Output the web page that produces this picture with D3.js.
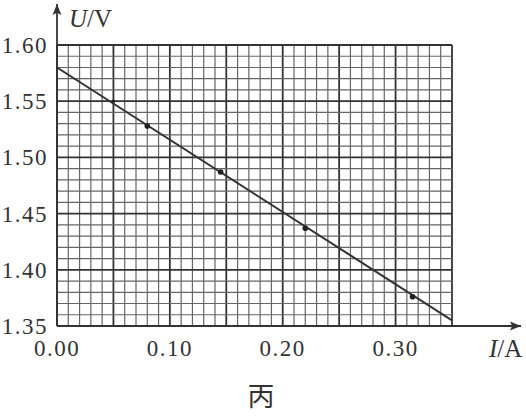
<!DOCTYPE html>
<html>
<head>
<meta charset="utf-8">
<script src="https://cdn.jsdelivr.net/npm/d3@7"></script>
<style>
  body { margin: 0; background: #fff; }
  text { font-family: "Liberation Serif", "DejaVu Serif", serif; fill: #333; }
</style>
</head>
<body>
<svg id="chart" width="526" height="418"></svg>
<script>
// measured points (I in A, U in V)
const currents = [0.05, 0.08, 0.145, 0.22, 0.315];
const voltages = [1.55, 1.528, 1.487, 1.437, 1.376];
// fitted line ends
const fitI = [0.00, 0.35];
const fitU = [1.58, 1.355];
const xTicks = [0.00, 0.10, 0.20, 0.30];
const yTicks = [1.35, 1.40, 1.45, 1.50, 1.55, 1.60];

const svg = d3.select("#chart");
const margin = { top: 45, left: 57 };
const width = 395, height = 281;

const x = d3.scaleLinear().domain([0, 0.35]).range([0, width]);
const y = d3.scaleLinear().domain([1.35, 1.60]).range([height, 0]);

const g = svg.append("g").attr("transform", "translate(" + margin.left + "," + margin.top + ")");

// fine grid, every 0.01 / 0.01, darker every 0.05
const gx = d3.range(0, 36).map(i => i / 100);
const gy = d3.range(0, 26).map(i => 1.35 + i / 100);

g.append("g").selectAll("line")
  .data(gx)
  .enter().append("line")
  .attr("x1", d => x(d)).attr("x2", d => x(d))
  .attr("y1", 0).attr("y2", height)
  .attr("stroke", (d, i) => i % 5 === 0 ? "#333" : "#666")
  .attr("stroke-width", (d, i) => i % 5 === 0 ? 1.8 : 1.2);

g.append("g").selectAll("line")
  .data(gy)
  .enter().append("line")
  .attr("y1", d => y(d)).attr("y2", d => y(d))
  .attr("x1", 0).attr("x2", width)
  .attr("stroke", (d, i) => i % 5 === 0 ? "#333" : "#666")
  .attr("stroke-width", (d, i) => i % 5 === 0 ? 1.8 : 1.2);

// axes with arrows
svg.append("defs").append("marker")
  .attr("id", "arrow")
  .attr("viewBox", "0 0 10 10")
  .attr("refX", 10).attr("refY", 5)
  .attr("markerWidth", 11).attr("markerHeight", 11)
  .attr("markerUnits", "userSpaceOnUse")
  .attr("orient", "auto")
  .append("path")
  .attr("d", "M0,1 L10,5 L0,9 L2,5 Z")
  .attr("fill", "#333");

g.append("line")
  .attr("x1", 0).attr("y1", height)
  .attr("x2", 464).attr("y2", height)
  .attr("stroke", "#333").attr("stroke-width", 1.8)
  .attr("marker-end", "url(#arrow)");

g.append("line")
  .attr("x1", 0).attr("y1", height)
  .attr("x2", 0).attr("y2", -41)
  .attr("stroke", "#333").attr("stroke-width", 1.8)
  .attr("marker-end", "url(#arrow)");

// tick labels
g.append("g").selectAll("text")
  .data(xTicks)
  .enter().append("text")
  .attr("x", d => x(d))
  .attr("y", height + 30)
  .attr("text-anchor", "middle")
  .attr("font-size", 23)
  .attr("letter-spacing", 1.5)
  .text(d => d.toFixed(2));

g.append("g").selectAll("text")
  .data(yTicks)
  .enter().append("text")
  .attr("x", -9)
  .attr("y", d => y(d))
  .attr("dy", "0.35em")
  .attr("text-anchor", "end")
  .attr("font-size", 23)
  .attr("letter-spacing", 1.5)
  .text(d => d.toFixed(2));

// fitted line
g.append("line")
  .attr("x1", x(fitI[0])).attr("y1", y(fitU[0]))
  .attr("x2", x(fitI[1])).attr("y2", y(fitU[1]))
  .attr("stroke", "#333").attr("stroke-width", 2);

// data points
g.append("g").selectAll("circle")
  .data(currents)
  .enter().append("circle")
  .attr("cx", d => x(d))
  .attr("cy", (d, i) => y(voltages[i]))
  .attr("r", (d, i) => i === 0 ? 1.8 : 2.8)
  .attr("fill", "#222");

// axis titles
const uLab = svg.append("text").attr("x", 69).attr("y", 27).attr("font-size", 25);
uLab.append("tspan").attr("font-style", "italic").text("U");
uLab.append("tspan").text("/V");

const iLab = svg.append("text").attr("x", 489).attr("y", 357).attr("font-size", 25);
iLab.append("tspan").attr("font-style", "italic").text("I");
iLab.append("tspan").text("/A");

svg.append("text")
  .attr("x", 261).attr("y", 406)
  .attr("text-anchor", "middle")
  .attr("font-size", 27)
  .style("font-family", "'Noto Sans CJK SC', sans-serif")
  .text("丙");
</script>
</body>
</html>
